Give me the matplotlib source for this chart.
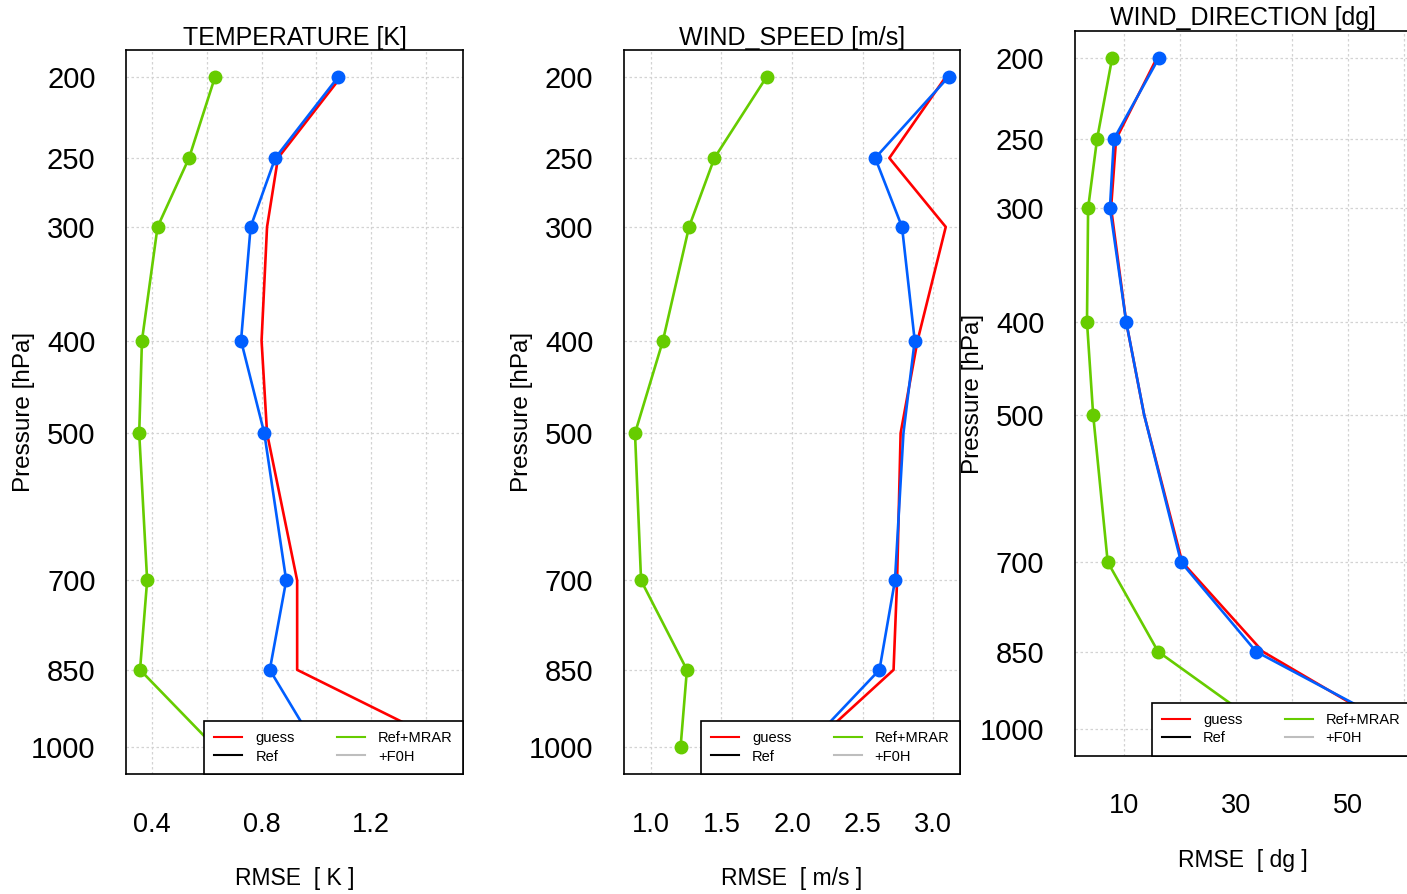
"""RMSE profiles vs pressure: temperature, wind speed, wind direction."""
import matplotlib
matplotlib.use('Agg')
import matplotlib.pyplot as plt
from matplotlib.lines import Line2D
import numpy as np

plt.rcParams['font.family'] = ['Liberation Sans', 'DejaVu Sans']

# Pressure levels [hPa]
levels = [200, 250, 300, 400, 500, 700, 850, 1000]

# RMSE values
temp_guess = [1.09, 0.86, 0.82, 0.80, 0.82, 0.93, 0.93, 1.50]
temp_ref = [1.08, 0.85, 0.76, 0.725, 0.81, 0.89, 0.83, 1.00]
temp_mrar = [0.63, 0.535, 0.42, 0.363, 0.353, 0.382, 0.356, 0.63]

wspd_guess = [3.09, 2.69, 3.09, 2.89, 2.77, 2.745, 2.72, 2.12]
wspd_ref = [3.11, 2.59, 2.78, 2.87, 2.79, 2.73, 2.62, 2.10]
wspd_mrar = [1.82, 1.45, 1.27, 1.085, 0.887, 0.93, 1.255, 1.21]

wdir_guess = [15.9, 8.6, 7.7, 10.4, 13.6, 20.4, 34.8, 58.4]
wdir_ref = [16.25, 8.2, 7.5, 10.4, 13.6, 20.2, 33.6, 59.6]
wdir_mrar = [7.9, 5.2, 3.6, 3.4, 4.5, 7.1, 16.1, 35.4]

# which Ref points carry a marker (500 hPa missing in wind panels)
ref_marked_temp = [True] * 8
ref_marked_wind = [True, True, True, True, False, True, True, True]

RED = '#ff0000'
BLUE = '#005eff'
GREEN = '#66cc00'


def p2z(p):
    p = np.clip(np.asarray(p, dtype=float), 1e-3, None)
    return 44330.8 * (1 - (p / 1013.25) ** 0.190263)


def z2p(z):
    base = np.clip(1 - np.asarray(z, dtype=float) / 44330.8, 1e-9, None)
    return 1013.25 * base ** (1 / 0.190263)


zmin, zmax = p2z(max(levels)), p2z(min(levels))
zpad = 0.04 * (zmax - zmin)
ylims = (float(z2p(zmin - zpad)), float(z2p(zmax + zpad)))

panels = [
    dict(rect=[0.0896, 0.1342, 0.2395, 0.8098], title='TEMPERATURE [K]',
         xlabel='RMSE  [ K ]', guess=temp_guess, ref=temp_ref, mrar=temp_mrar,
         marks=ref_marked_temp, xlim=(0.305, 1.536),
         ticks=[0.4, 0.8, 1.2], grid=np.arange(0.2, 1.6, 0.2), fmt='{:.1f}'),
    dict(rect=[0.4435, 0.1342, 0.2388, 0.8098], title='WIND_SPEED [m/s]',
         xlabel='RMSE  [ m/s ]', guess=wspd_guess, ref=wspd_ref, mrar=wspd_mrar,
         marks=ref_marked_wind, xlim=(0.809, 3.191),
         ticks=[1.0, 1.5, 2.0, 2.5, 3.0], grid=np.arange(1.0, 3.5, 0.5), fmt='{:.1f}'),
    dict(rect=[0.7640, 0.1544, 0.2388, 0.8110], title='WIND_DIRECTION [dg]',
         xlabel='RMSE  [ dg ]', guess=wdir_guess, ref=wdir_ref, mrar=wdir_mrar,
         marks=ref_marked_wind, xlim=(1.25, 61.25),
         ticks=[10, 30, 50], grid=np.arange(10, 70, 10), fmt='{:.0f}'),
]

fig = plt.figure(figsize=(14.07, 8.94), dpi=100)

for pn in panels:
    ax = fig.add_axes(pn['rect'])
    ax.set_yscale('function', functions=(lambda p: -p2z(p), lambda t: z2p(-t)))

    ax.plot(pn['guess'], levels, color=RED, lw=1.9, zorder=3)
    ax.plot(pn['ref'], levels, color=BLUE, lw=1.9, marker='o', ms=9,
            markevery=pn['marks'], zorder=4)
    ax.plot(pn['mrar'], levels, color=GREEN, lw=1.9, marker='o', ms=9, zorder=4)

    ax.set_ylim(ylims[0], ylims[1])
    ax.set_xlim(*pn['xlim'])

    # dotted grid like R's grid()
    for g in pn['grid']:
        ax.axvline(g, color='#d3d3d3', lw=0.9, ls=(0, (2, 2)), zorder=1)
    for lv in levels:
        ax.axhline(lv, color='#d3d3d3', lw=0.9, ls=(0, (2, 2)), zorder=1)

    ax.set_yticks(levels)
    ax.set_yticklabels([str(v) for v in levels])
    ax.yaxis.set_minor_locator(matplotlib.ticker.NullLocator())
    ax.set_xticks(pn['ticks'])
    ax.set_xticklabels([pn['fmt'].format(t) for t in pn['ticks']])
    ax.tick_params(axis='y', length=0, pad=22, labelsize=21)
    ax.tick_params(axis='x', length=0, pad=27, labelsize=19.5)

    for s in ax.spines.values():
        s.set_linewidth(1.2)

    ax.set_title(pn['title'], fontsize=18, pad=4)
    ax.set_xlabel(pn['xlabel'], fontsize=16.5)
    ax.xaxis.set_label_coords(0.5, -0.128)
    ax.set_ylabel('Pressure [hPa]', fontsize=17.5)
    ax.yaxis.set_label_coords(-0.271, 0.5)

    handles = [Line2D([], [], color=RED, lw=1.5),
               Line2D([], [], color='black', lw=1.5),
               Line2D([], [], color=GREEN, lw=1.5),
               Line2D([], [], color='#bebebe', lw=1.5)]
    leg = ax.legend(handles, ['guess', 'Ref', 'Ref+MRAR', '+F0H'], ncol=2,
                    loc='lower right', borderaxespad=0, fontsize=10.5,
                    frameon=True, fancybox=False, framealpha=1,
                    edgecolor='black', handlelength=1.9, handletextpad=0.9,
                    columnspacing=2.9, labelspacing=0.3, borderpad=0.72)
    leg.get_frame().set_linewidth(1.2)
    leg.set_zorder(10)

plt.savefig('out.png', dpi=100)
